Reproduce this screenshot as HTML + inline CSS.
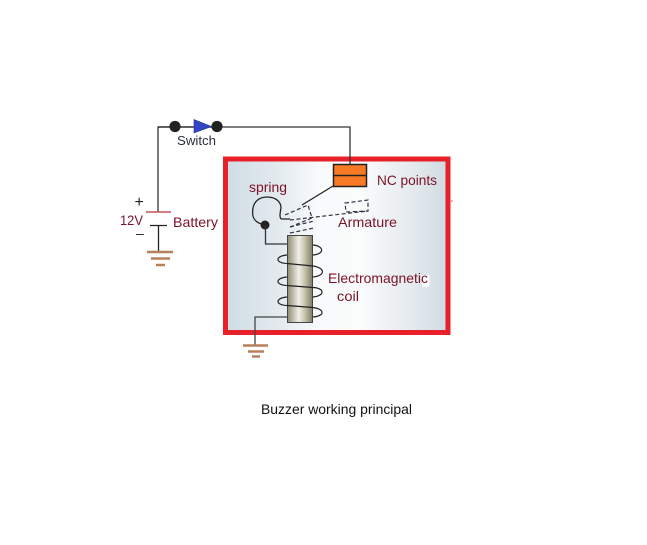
<!DOCTYPE html>
<html><head><meta charset="utf-8"><style>
html,body{margin:0;padding:0;background:#fff}
svg{display:block}
text{font-family:"Liberation Sans",sans-serif}
</style></head><body>
<svg width="647" height="545" viewBox="0 0 647 545" xmlns="http://www.w3.org/2000/svg">
<defs>
<linearGradient id="bg" x1="0" y1="0" x2="1" y2="0">
<stop offset="0" stop-color="#cfdce4"/><stop offset="0.25" stop-color="#e4ebef"/><stop offset="0.42" stop-color="#f8fafb"/><stop offset="0.6" stop-color="#fbfcfc"/><stop offset="0.85" stop-color="#e3e9ed"/><stop offset="1" stop-color="#cfdae1"/>
</linearGradient>
<linearGradient id="core" x1="0" y1="0" x2="1" y2="0">
<stop offset="0" stop-color="#8e8a72"/><stop offset="0.45" stop-color="#f0efe6"/><stop offset="0.7" stop-color="#c4c1ab"/><stop offset="1" stop-color="#7f7c66"/>
</linearGradient>
</defs>
<rect width="647" height="545" fill="#fff"/>
<rect x="225" y="158" width="223" height="174" fill="url(#bg)"/>
<rect x="225.500" y="159" width="222.500" height="173.500" fill="none" stroke="#e8202a" stroke-width="5"/>
<path d="M451 201H452.500" stroke="#e8202a" stroke-width="1"/>
<path d="M158 212V127H350V165" fill="none" stroke="#333" stroke-width="1.300"/>
<path d="M158 127H217" fill="none" stroke="#222" stroke-width="1.300"/>
<circle cx="175" cy="126.500" r="5.600" fill="#222"/>
<circle cx="217" cy="126.500" r="5.600" fill="#222"/>
<path d="M194 119.500L211.500 126.500L194 133Z" fill="#3344c4" stroke="#23308a" stroke-width="0.600"/>
<text x="177" y="145" font-size="13" fill="#2a3040" textLength="39" lengthAdjust="spacingAndGlyphs">Switch</text>
<text x="134.500" y="207" font-size="16" fill="#222">+</text>
<text x="136" y="238" font-size="14" fill="#222">–</text>
<text x="120" y="225" font-size="14" fill="#7a1228" textLength="23" lengthAdjust="spacingAndGlyphs">12V</text>
<text x="173" y="227" font-size="14" fill="#7a1228" textLength="45" lengthAdjust="spacingAndGlyphs">Battery</text>
<path d="M146 212H171" stroke="#c8505a" stroke-width="1.500"/>
<path d="M150 225.500H167" stroke="#222" stroke-width="1.300"/>
<path d="M158.500 226V252" stroke="#222" stroke-width="1.300"/>
<path d="M147 252H173" stroke="#b5805a" stroke-width="2.500"/>
<path d="M151 258.500H170" stroke="#b5805a" stroke-width="2.500"/>
<path d="M156 265H165" stroke="#b5805a" stroke-width="2.500"/>
<rect x="333.500" y="164.500" width="33" height="22" fill="#f97a24" stroke="#222" stroke-width="1.500"/>
<path d="M333 175.500H367" stroke="#222" stroke-width="1.500"/>
<text x="377" y="185" font-size="14" fill="#7a1228" textLength="60" lengthAdjust="spacingAndGlyphs">NC points</text>
<text x="249" y="192" font-size="14" fill="#7a1228" textLength="38" lengthAdjust="spacingAndGlyphs">spring</text>
<text x="338" y="227" font-size="14" fill="#7a1228" textLength="59" lengthAdjust="spacingAndGlyphs">Armature</text>
<path d="M333 186L302 205" stroke="#222" stroke-width="1.300"/>
<path d="M265 225C255 223 252 218 252.700 211C253 201 260 197 267 197C276 197 281 202 281 208C280 213 279 219 282 219H290" fill="none" stroke="#222" stroke-width="1.300"/>
<circle cx="265" cy="225" r="4.500" fill="#222"/>
<path d="M265.500 225V244H288" fill="none" stroke="#333" stroke-width="1.300"/>
<g fill="none" stroke="#334" stroke-width="1.200" stroke-dasharray="4 2.500">
<path d="M285 215L308 205L312 218L290 227"/>
<path d="M290 220L368 211"/>
<path d="M290 227L314 221"/>
<path d="M290 233L314 228"/>
<path d="M345 203L368 200L368 211L346 212Z"/>
</g>
<rect x="287.500" y="235.500" width="25" height="87" fill="url(#core)" stroke="#444" stroke-width="1"/>
<path d="M313 245C324 246 325 254 313 255M287 255C275 256 275 263 287 263.500L313 266C326 268 325 276 313 277M287 277C275 278 275 285 287 285.500L313 287.500C325 288 325 296 313 297M287 297C275 298 275 305 287 305.500L313 307.500C325 309 325 316 313 317" fill="none" stroke="#222" stroke-width="1.200"/>
<rect x="422" y="275" width="7.500" height="12" fill="#fff"/>
<text x="328" y="283" font-size="14" fill="#7a1228" textLength="100" lengthAdjust="spacingAndGlyphs">Electromagnetic</text>
<text x="337" y="301" font-size="14" fill="#7a1228" textLength="22" lengthAdjust="spacingAndGlyphs">coil</text>
<path d="M287 317H255V345" fill="none" stroke="#444" stroke-width="1.300"/>
<path d="M243 345.500H268" stroke="#b5805a" stroke-width="2.500"/>
<path d="M248 351.500H264" stroke="#b5805a" stroke-width="2.500"/>
<path d="M252 356.500H260" stroke="#b5805a" stroke-width="2.500"/>
<text x="261" y="414" font-size="14" fill="#111" textLength="151" lengthAdjust="spacingAndGlyphs">Buzzer working principal</text>
</svg>
</body></html>
